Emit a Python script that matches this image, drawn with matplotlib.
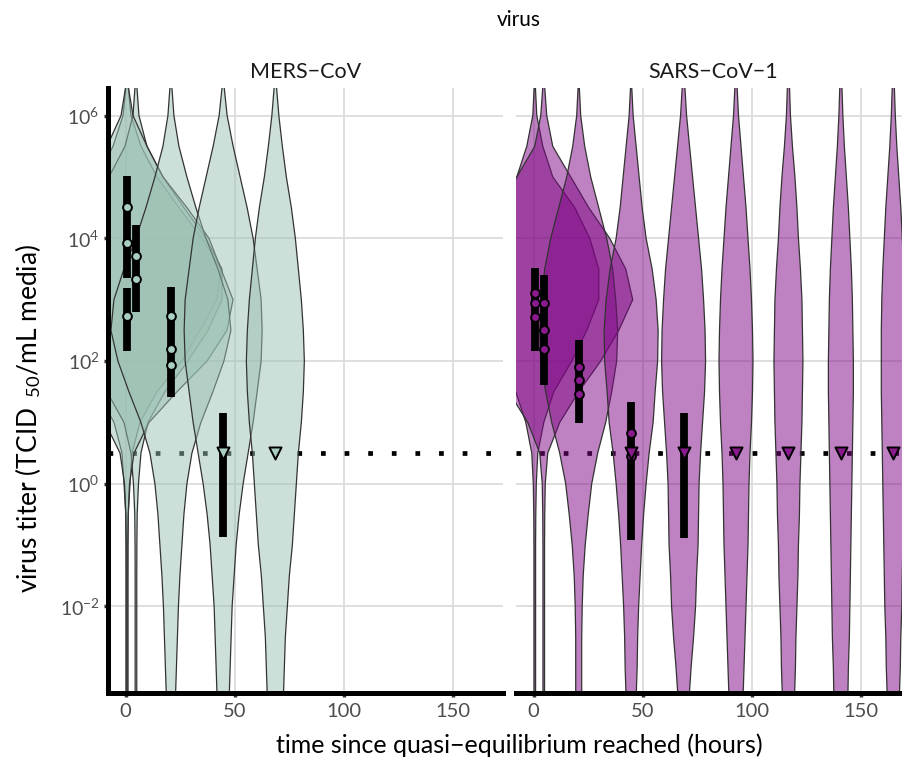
import numpy as np
import matplotlib
matplotlib.use("Agg")
import matplotlib.pyplot as plt
from matplotlib.patches import Polygon

plt.rcParams['font.family'] = ['Lato', 'DejaVu Sans']
plt.rcParams['mathtext.fontset'] = 'custom'
plt.rcParams['mathtext.rm'] = 'Lato'
plt.rcParams['mathtext.it'] = 'Lato:italic'
plt.rcParams['mathtext.bf'] = 'Lato:bold'

# log10 titer levels at which the violin half-widths are given
log_levels = [-3.5, -3.0, -2.5, -2.0, -1.5, -1.0, -0.5, 0.0, 0.5, 1.0, 1.5,
              2.0, 2.5, 3.0, 3.5, 4.0, 4.5, 5.0, 5.5, 6.0, 6.5, 7.0]

# MERS-CoV posterior violins (relative half-width per level)
mers_0a = [0.8, 0.8, 0.8, 0.8, 0.8, 0.9, 1.2, 3, 5, 13, 30, 55, 73, 90, 94, 75, 52, 30, 14, 4, 1, 0]
mers_4 = [0.8, 0.8, 0.8, 0.8, 0.8, 0.9, 1.2, 2.5, 5, 12, 29, 52, 72, 86, 86, 70, 48, 27, 11, 3, 0.8, 0]
mers_0b = [0.8, 0.8, 0.8, 0.8, 0.8, 0.8, 1.2, 2.5, 7, 22, 50, 80, 100, 106, 94, 82, 60, 36, 20, 6, 1, 0]
mers_20 = [4.5, 5.5, 6.5, 7.5, 9, 11, 13, 16, 21, 30, 42, 53, 60, 57, 47, 35, 25, 16, 8, 3, 0.8, 0]
mers_44 = [6, 7, 8, 9, 11, 13, 16, 20, 25, 30, 34, 38, 39, 38, 34, 30, 24, 17, 10, 4, 0.8, 0]
mers_68 = [8, 9, 10, 12, 14, 17, 19, 21, 23, 26, 28, 29, 28, 26, 23, 20, 16, 11, 7, 3.5, 1, 0]
mers_violin_times = [0.6, 4.7, 0.6, 20.7, 44.6, 68.5]
mers_violins = [mers_0a, mers_4, mers_0b, mers_20, mers_44, mers_68]

# SARS-CoV-1 posterior violins
sars_0 = [0.8, 0.8, 0.8, 0.8, 0.8, 0.8, 1, 1.5, 3, 9, 19, 37, 52, 64, 64, 55, 40, 18, 8, 2, 0.5, 0]
sars_4 = [0.8, 0.8, 0.8, 0.8, 0.8, 0.8, 1, 1.5, 4, 16, 35, 57, 75, 89, 82, 66, 45, 27, 9, 3, 0.8, 0]
sars_20 = [3, 3, 3, 3.5, 4.5, 6.5, 9.5, 13, 19, 27, 33, 38, 39, 37, 34, 28, 20, 12, 6, 2, 0.5, 0]
sars_44 = [5, 6, 6.5, 7.5, 9, 10.5, 12.5, 15, 18, 22, 24, 26.5, 27, 25, 21, 15, 11, 8, 5, 2, 0.5, 0]
sars_68 = [5.5, 7.5, 10, 12, 13, 14.5, 15, 15.5, 17, 19, 21, 22, 21.5, 20, 18, 15, 12, 9, 6, 3, 1.2, 0]
sars_92 = [7, 8, 9, 10, 11, 12, 12.5, 13, 14, 15.5, 16.5, 17, 16.5, 15.5, 14, 12, 10, 7.5, 5, 2.5, 1, 0]
sars_116 = [6, 7, 7.5, 8.5, 9.5, 10, 11, 11.5, 12.5, 13.5, 14, 14.5, 14, 13.5, 12, 10, 8.5, 6.5, 4, 2, 1, 0]
sars_140 = [7, 7.5, 8.5, 9, 9.5, 10, 10.5, 11, 11.5, 12, 12.5, 12.5, 12, 11.5, 10.5, 9, 7.5, 5.5, 3.5, 2, 1, 0]
sars_164 = [6, 7, 7.5, 8.5, 9, 9.5, 10, 10.5, 11, 11.5, 12, 12, 12, 11.5, 10.5, 9, 7.5, 5.5, 3.5, 2, 1, 0]
sars_violin_times = [0.5, 4.6, 20.6, 44.6, 68.6, 92.6, 116.6, 140.6, 164.6]
sars_violins = [sars_0, sars_4, sars_20, sars_44, sars_68, sars_92, sars_116, sars_140, sars_164]

# well titer estimates (log10) and their intervals
mers_pt_times = [0.6, 0.6, 0.6, 4.7, 4.7, 20.7, 20.7, 20.7]
mers_pt_logs = [4.51, 3.93, 2.73, 3.71, 3.34, 2.73, 2.19, 1.94]
mers_bar_times = [0.6, 0.6, 4.7, 20.7, 44.6]
mers_bar_lo = [3.36, 2.16, 2.80, 1.41, -0.86]
mers_bar_hi = [5.02, 3.19, 4.21, 3.21, 1.15]
mers_nd_times = [44.6, 68.5]

sars_pt_times = [0.5, 0.5, 0.5, 4.6, 4.6, 4.6, 20.6, 20.6, 20.6, 44.6, 44.6]
sars_pt_logs = [3.11, 2.94, 2.72, 2.94, 2.51, 2.20, 1.90, 1.69, 1.47, 0.83, 0.45]
sars_bar_times = [0.5, 4.6, 20.6, 44.6, 68.6]
sars_bar_lo = [2.17, 1.61, 0.99, -0.92, -0.88]
sars_bar_hi = [3.52, 3.41, 2.35, 1.34, 1.15]
sars_nd_times = [44.6, 68.6, 92.6, 116.6, 140.6, 164.6]

detection_log = 0.5
violin_scale = 1 / 2.185   # hours per width unit

mers_fill = (155 / 255, 193 / 255, 179 / 255)
sars_fill = (127 / 255, 5 / 255, 133 / 255)
mers_pt = '#a9cfc1'
sars_pt = '#8b1a8f'


def draw_violin(ax, t, dens, color):
    hw = np.array(dens) * violin_scale
    ys = 10.0 ** np.array(log_levels)
    xs = np.concatenate([t - hw, (t + hw)[::-1]])
    yy = np.concatenate([ys, ys[::-1]])
    ax.add_patch(Polygon(np.column_stack([xs, yy]), closed=True,
                         facecolor=(*color, 0.5), edgecolor='#333333',
                         lw=0.9, zorder=2))


def panel(ax, title, vtimes, violins, color, ptcol, pt_t, pt_l,
          bar_t, bar_lo, bar_hi, nd_t, show_y):
    ax.set_yscale('log')
    ax.set_xlim(-8.1, 172.7)
    ax.set_ylim(10 ** -3.41, 10 ** 6.45)
    ax.set_axisbelow(True)
    ax.grid(True, color='#d9d9d9', lw=1.2)
    ax.axhline(10 ** detection_log, color='black', lw=3.4,
               linestyle=(0, (1, 4)), dash_capstyle='butt', zorder=1)
    for t, d in zip(vtimes, violins):
        draw_violin(ax, t, d, color)
    ax.vlines(bar_t, 10.0 ** np.array(bar_lo), 10.0 ** np.array(bar_hi),
              color='black', lw=5.6, zorder=3, capstyle='butt')
    ax.scatter(pt_t, 10.0 ** np.array(pt_l), s=40, marker='o', facecolor=ptcol,
               edgecolor='black', lw=1.4, zorder=4)
    ax.scatter(nd_t, [10 ** detection_log] * len(nd_t), s=75, marker='v',
               facecolor=ptcol, edgecolor='black', lw=1.4, zorder=4)

    ax.set_xticks([0, 50, 100, 150])
    ax.set_yticks([1e-2, 1, 1e2, 1e4, 1e6])
    ax.yaxis.set_minor_locator(matplotlib.ticker.NullLocator())
    ax.set_yticklabels([r'$10^{-2}$', r'$10^{0}$', r'$10^{2}$', r'$10^{4}$', r'$10^{6}$'])
    ax.tick_params(axis='both', length=3, width=2.5, color='#333333',
                   labelcolor='#4d4d4d', pad=3)
    ax.tick_params(axis='x', labelsize=14.5, pad=4)
    ax.tick_params(axis='y', labelsize=14)
    for s in ['top', 'right']:
        ax.spines[s].set_visible(False)
    ax.spines['bottom'].set_linewidth(3.6)
    ax.spines['bottom'].set_zorder(5)
    if show_y:
        ax.spines['left'].set_linewidth(3.6)
        ax.spines['left'].set_zorder(5)
    else:
        ax.spines['left'].set_visible(False)
        ax.tick_params(axis='y', length=0, labelleft=False)
    ax.set_title(title, fontsize=15.5, color='#1a1a1a', pad=7)


fig = plt.figure(figsize=(9.03, 7.62), dpi=100)
ax1 = fig.add_axes([108 / 903, 69 / 762, 395 / 903, 605 / 762])
ax2 = fig.add_axes([516 / 903, 69 / 762, 395 / 903, 605 / 762])

panel(ax1, 'MERS\u2212CoV', mers_violin_times, mers_violins, mers_fill, mers_pt,
      mers_pt_times, mers_pt_logs, mers_bar_times, mers_bar_lo, mers_bar_hi,
      mers_nd_times, True)
panel(ax2, 'SARS\u2212CoV\u22121', sars_violin_times, sars_violins, sars_fill, sars_pt,
      sars_pt_times, sars_pt_logs, sars_bar_times, sars_bar_lo, sars_bar_hi,
      sars_nd_times, False)

fig.text(519 / 903, 1 - 20 / 762, 'virus', ha='center', va='center', fontsize=15)
fig.text(519 / 903, 1 - 745 / 762, 'time since quasi\u2212equilibrium reached (hours)',
         ha='center', va='center', fontsize=18)
fig.text(28 / 903, 1 - 418 / 762, r'virus titer (TCID$_{\ \ 50}$/mL media)',
         ha='center', va='center', rotation=90, fontsize=19)

fig.savefig('out.png', dpi=100)
